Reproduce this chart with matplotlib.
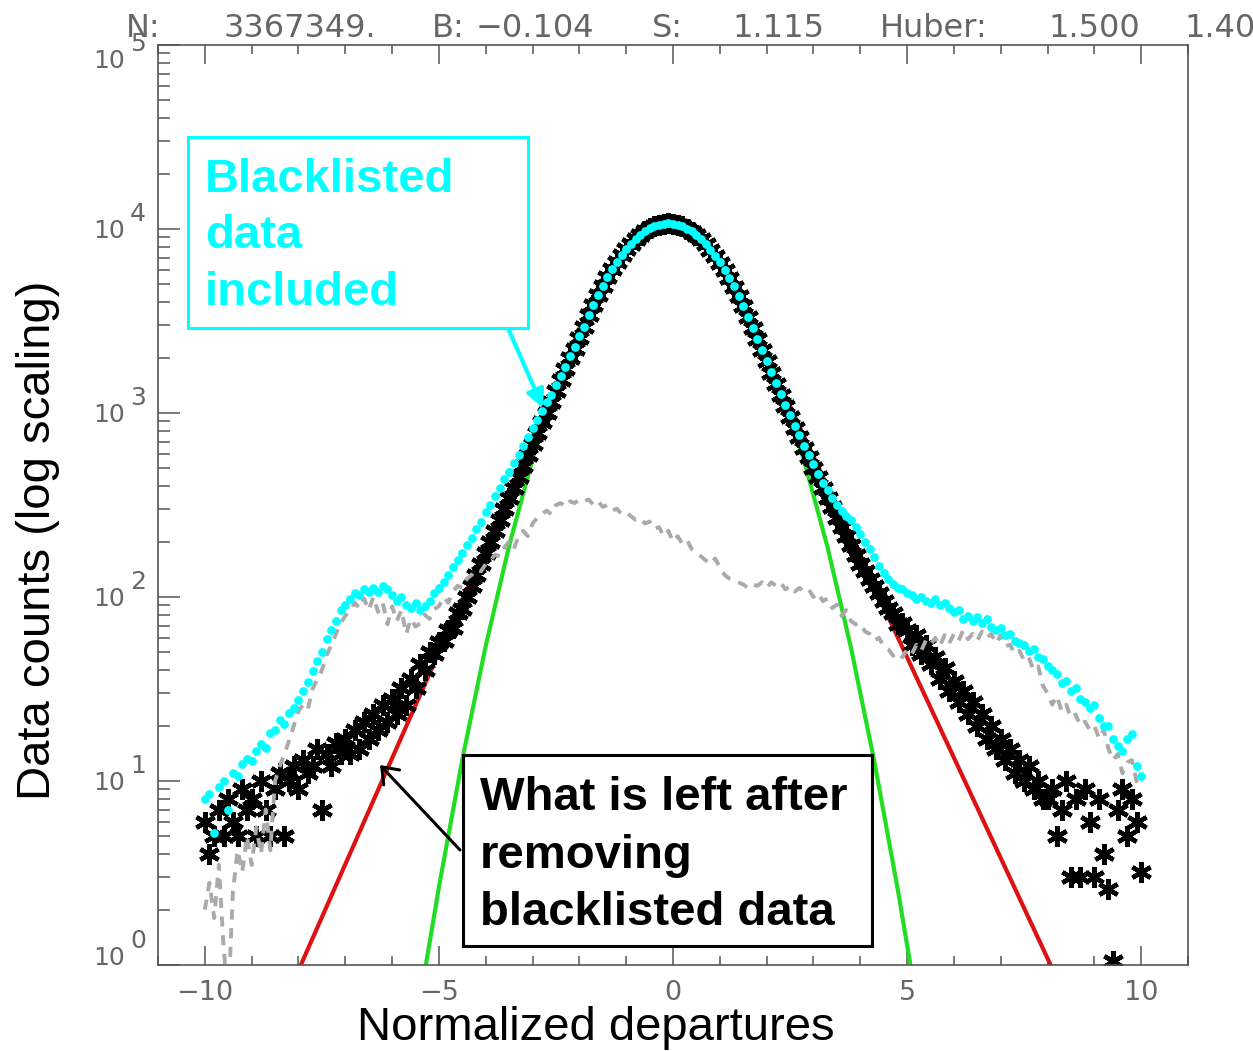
import numpy as np
import matplotlib
matplotlib.use('Agg')
import matplotlib.pyplot as plt
from matplotlib.ticker import LogLocator, MultipleLocator, NullFormatter
from matplotlib.patches import Rectangle

W, H = 1253, 1051

# histogram bin centres, -10 .. 10 every 0.1
bin_centers = np.linspace(-10, 10, 201)

# data counts without blacklisted data (black asterisks)
black_counts = [
    6, 4, 5, 7, 5, 8, 6, 5, 9, 7,
    8, 5, 10, 7, 5, 9, 11, 5, 10, 12,
    9, 13, 11, 12, 15, 7, 14, 12, 16, 14,
    17, 14, 19, 15, 21, 17, 23, 19, 26, 21,
    28, 23, 32, 26, 36, 32, 43, 40, 50, 49,
    57, 58, 66, 68, 82, 86, 100, 115, 132, 151,
    174, 200, 229, 263, 302, 347, 389, 447, 513, 589,
    676, 776, 891, 1000, 1148, 1318, 1514, 1738, 1995, 2239,
    2570, 2951, 3388, 3846, 4355, 4898, 5458, 6026, 6615, 7194,
    7762, 8299, 8818, 9290, 9705, 10063, 10346, 10546, 10666, 10715,
    10666, 10540, 10325, 10035, 9683, 9254, 8776, 8262, 7711, 7145,
    6565, 5980, 5408, 4853, 4315, 3802, 3311, 2884, 2512, 2188,
    1905, 1660, 1445, 1259, 1096, 955, 832, 741, 646, 575,
    501, 447, 389, 347, 309, 269, 240, 214, 191, 170,
    151, 138, 126, 115, 105, 95, 87, 82, 71, 72,
    66, 55, 62, 49, 55, 43, 47, 36, 41, 31,
    35, 27, 31, 23, 27, 20, 23, 17, 20, 15,
    17, 13, 15, 11, 13, 10, 12, 9, 10, 8,
    8, 9, 5, 7, 10, 3, 8, 3, 9, 6,
    3, 8, 4, 2.6, 1.05, 7, 9, 5, 8, 6,
    3.2,
]

# data counts with blacklisted data included (cyan dots)
cyan_counts = [
    8, 8.5, 5.2, 9.3, 10, 7, 11, 10.7, 12.3, 13.2,
    12.9, 14.5, 15.8, 15.1, 18.2, 19, 21.4, 20.4, 23.4, 25,
    27.5, 31, 34.7, 39.8, 44.7, 50, 58.9, 66, 74, 85,
    91, 98, 105, 102, 110, 107, 112, 107, 115, 110,
    102, 95, 100, 91, 87, 93, 85, 89, 95, 105,
    112, 120, 132, 145, 158, 174, 191, 209, 234, 257,
    288, 316, 355, 389, 437, 479, 537, 589, 661, 741,
    832, 912, 1023, 1148, 1259, 1413, 1585, 1778, 2042, 2291,
    2630, 2951, 3400, 3860, 4370, 4910, 5470, 6040, 6630, 7210,
    7780, 8310, 8830, 9300, 9720, 10080, 10360, 10560, 10680, 10730,
    10680, 10550, 10340, 10050, 9700, 9270, 8790, 8280, 7730, 7160,
    6580, 6000, 5420, 4870, 4330, 3820, 3330, 2900, 2530, 2200,
    1920, 1680, 1460, 1275, 1110, 970, 850, 760, 665, 590,
    525, 468, 417, 380, 347, 316, 295, 275, 263, 240,
    219, 200, 182, 166, 148, 135, 126, 117, 112, 110,
    105, 102, 98, 100, 95, 93, 98, 91, 93, 87,
    83, 85, 76, 79, 74, 78, 72, 76, 69, 66,
    68, 62, 63, 58, 56, 55, 51, 52, 47, 46,
    42, 40, 38, 34, 35, 31, 32, 28, 27, 25,
    26, 22, 20, 20, 17, 15.5, 14.5, 17, 18, 12,
    10.7,
]

# blacklisted data only (gray dashed)
gray_counts = [
    2, 2.8, 1.8, 3.5, 1.26, 0.63, 2.5, 4.2, 3.2, 5,
    3.5, 5.6, 4, 7, 4.2, 10, 12, 14, 16.6, 20,
    24, 26, 24.5, 31.6, 35.5, 40, 48, 55, 63, 72,
    79, 85, 93, 87, 98, 85, 100, 83, 93, 71,
    89, 74, 85, 63, 76, 69, 72, 80, 76, 86,
    89, 100, 93, 107, 115, 112, 126, 132, 141, 138,
    151, 158, 170, 166, 186, 200, 182, 214, 229, 214,
    251, 269, 282, 295, 282, 316, 324, 309, 331, 324,
    339, 331, 339, 316, 331, 309, 316, 295, 302, 282,
    288, 275, 263, 269, 251, 257, 234, 240, 214, 229,
    200, 214, 195, 204, 182, 174, 166, 158, 151, 162,
    145, 132, 126, 123, 120, 117, 112, 117, 115, 120,
    112, 120, 115, 120, 110, 115, 107, 112, 107, 110,
    100, 105, 95, 98, 87, 91, 79, 85, 74, 71,
    72, 65, 63, 58, 60, 54, 52, 48, 50, 47,
    52, 49, 55, 51, 58, 55, 60, 54, 62, 56,
    63, 58, 66, 59, 63, 58, 65, 60, 63, 56,
    62, 54, 55, 49, 51, 45, 47, 40, 42, 33,
    30, 26, 29, 24, 26, 22, 23, 20, 21, 19,
    20, 17, 19, 15, 13, 14, 11, 12.6, 13, 10,
    9,
]

# fitted curves
red_x = [-8.0, -6.0, -4.0, -2.0, -1.78, -1.5, -1.0, -0.5, -0.1, 0.4, 0.9, 1.2, 1.46, 3.0, 5.0, 8.15]
red_counts = [0.935, 13.3, 188, 2675, 3560, 4898, 7762, 10070, 10715, 9683, 7145, 5408, 4010, 580, 47, 0.90]

green_x = [-5.35, -5.0, -4.5, -4.0, -3.5, -3.0, -2.5, -2.0, -1.5, -1.0, -0.5, -0.1,
           0.3, 0.8, 1.3, 1.8, 2.3, 2.8, 3.3, 3.8, 4.3, 4.8, 5.2]
green_counts = [0.78, 2.65, 13.1, 54.3, 190, 561, 1391, 2911, 5117, 7586, 9484, 10000,
                9462, 7551, 5082, 2877, 1374, 552, 187, 53.2, 12.8, 2.58, 0.64]

x_ticks = [-10, -5, 0, 5, 10]
x_tick_labels = ['\u221210', '\u22125', '0', '5', '10']
y_decades = [0, 1, 2, 3, 4, 5]

# header line (text, left edge in pixels)
title_parts = [('N:', 126), ('3367349.', 224), ('B:', 432), ('\u22120.104', 476),
               ('S:', 652), ('1.115', 732), ('Huber:', 880), ('1.500', 1048), ('1.40', 1184)]

GREY = '#666666'
CYAN = '#00ffff'
PT = 0.72  # points per pixel at dpi 100


def fx(px):
    return px / W


def fy(py):
    return 1 - py / H


fig = plt.figure(figsize=(W / 100, H / 100), dpi=100)
ax = fig.add_axes([fx(158), fy(965), 1030 / W, 920 / H])

ax.plot(red_x, red_counts, color='#dd1111', lw=3, zorder=1.6)
ax.plot(green_x, green_counts, color='#22dd22', lw=3, zorder=1.7)
ax.plot(bin_centers, black_counts, linestyle='none', marker=(6, 2, 0), ms=15,
        mew=3.2, color='black', zorder=2)
ax.plot(bin_centers, gray_counts, color='#aaaaaa', lw=2.8, linestyle=(0, (2.6, 2.2)), zorder=2.5)
ax.plot(bin_centers, cyan_counts, linestyle='none', marker='o', ms=6.3,
        color=CYAN, mec='none', zorder=4)

ax.set_yscale('log')
ax.set_xlim(-11, 11)
ax.set_ylim(1, 1e5)

ax.xaxis.set_major_locator(MultipleLocator(5))
ax.xaxis.set_minor_locator(MultipleLocator(1))
ax.yaxis.set_major_locator(LogLocator(base=10))
ax.yaxis.set_minor_locator(LogLocator(base=10, subs=range(2, 10)))
ax.yaxis.set_minor_formatter(NullFormatter())
ax.tick_params(axis='x', which='both', direction='in', top=True, bottom=True,
               labelbottom=False, color='#555555', width=1.1)
ax.tick_params(axis='x', which='major', length=19 * PT)
ax.tick_params(axis='x', which='minor', length=9 * PT)
ax.tick_params(axis='y', which='both', direction='in', left=True, right=False,
               labelleft=False, color='#555555', width=1.1)
ax.tick_params(axis='y', which='major', length=22 * PT)
ax.tick_params(axis='y', which='minor', length=12 * PT)
for spine in ax.spines.values():
    spine.set_color('#555555')
    spine.set_linewidth(1.2)

# tick labels drawn by hand so the exponent keeps full size
for t, lab in zip(x_ticks, x_tick_labels):
    ax.annotate(lab, xy=(t, 0), xycoords=ax.get_xaxis_transform(),
                xytext=(0, -35 * PT), textcoords='offset points',
                ha='center', va='baseline', fontsize=19.5, color=GREY)
for k in y_decades:
    drop = 0 if k == 0 else (23 if k == 5 else 9)
    ax.annotate('10', xy=(0, 10.0 ** k), xycoords=ax.get_yaxis_transform(),
                xytext=(-33 * PT, -drop * PT), textcoords='offset points',
                ha='right', va='baseline', fontsize=18, color=GREY)
    ax.annotate(str(k), xy=(0, 10.0 ** k), xycoords=ax.get_yaxis_transform(),
                xytext=(-28 * PT, -(drop - 17) * PT), textcoords='offset points',
                ha='left', va='baseline', fontsize=18, color=GREY)

for s, px in title_parts:
    fig.text(fx(px), fy(37), s, ha='left', va='baseline', fontsize=23, color=GREY)

fig.text(fx(357), fy(1040), 'Normalized departures', ha='left', va='baseline',
         fontsize=34, family='Liberation Sans')
fig.text(fx(50), fy(800), 'Data counts (log scaling)', rotation=90, rotation_mode='anchor',
         ha='left', va='baseline', fontsize=34, family='Liberation Sans')

# annotation boxes
fig.add_artist(Rectangle((fx(188), fy(328)), 340 / W, 191 / H, transform=fig.transFigure,
                         facecolor='white', edgecolor=CYAN, lw=2.2))
for line, py in zip(['Blacklisted', 'data', 'included'], [192, 248, 305]):
    fig.text(fx(205), fy(py), line, ha='left', va='baseline', fontsize=34,
             fontweight='bold', color=CYAN, family='Liberation Sans')

fig.add_artist(Rectangle((fx(463), fy(946)), 409 / W, 191 / H, transform=fig.transFigure,
                         facecolor='white', edgecolor='black', lw=2.2))
for line, py in zip(['What is left after', 'removing', 'blacklisted data'], [810, 868, 925]):
    fig.text(fx(480), fy(py), line, ha='left', va='baseline', fontsize=34,
             fontweight='bold', color='black', family='Liberation Sans')

ax.annotate('', xy=(fx(543), fy(408)), xycoords='figure fraction',
            xytext=(fx(508), fy(328)), textcoords='figure fraction',
            arrowprops=dict(arrowstyle='-|>,head_length=0.6,head_width=0.3', color=CYAN,
                            lw=3, mutation_scale=18, shrinkA=0, shrinkB=0), zorder=6)
ax.annotate('', xy=(fx(380), fy(765)), xycoords='figure fraction',
            xytext=(fx(460), fy(850)), textcoords='figure fraction',
            arrowprops=dict(arrowstyle='->,head_length=0.4,head_width=0.3', color='black',
                            lw=2.2, mutation_scale=26, shrinkA=0, shrinkB=0), zorder=6)

fig.savefig('out.png', dpi=100)
